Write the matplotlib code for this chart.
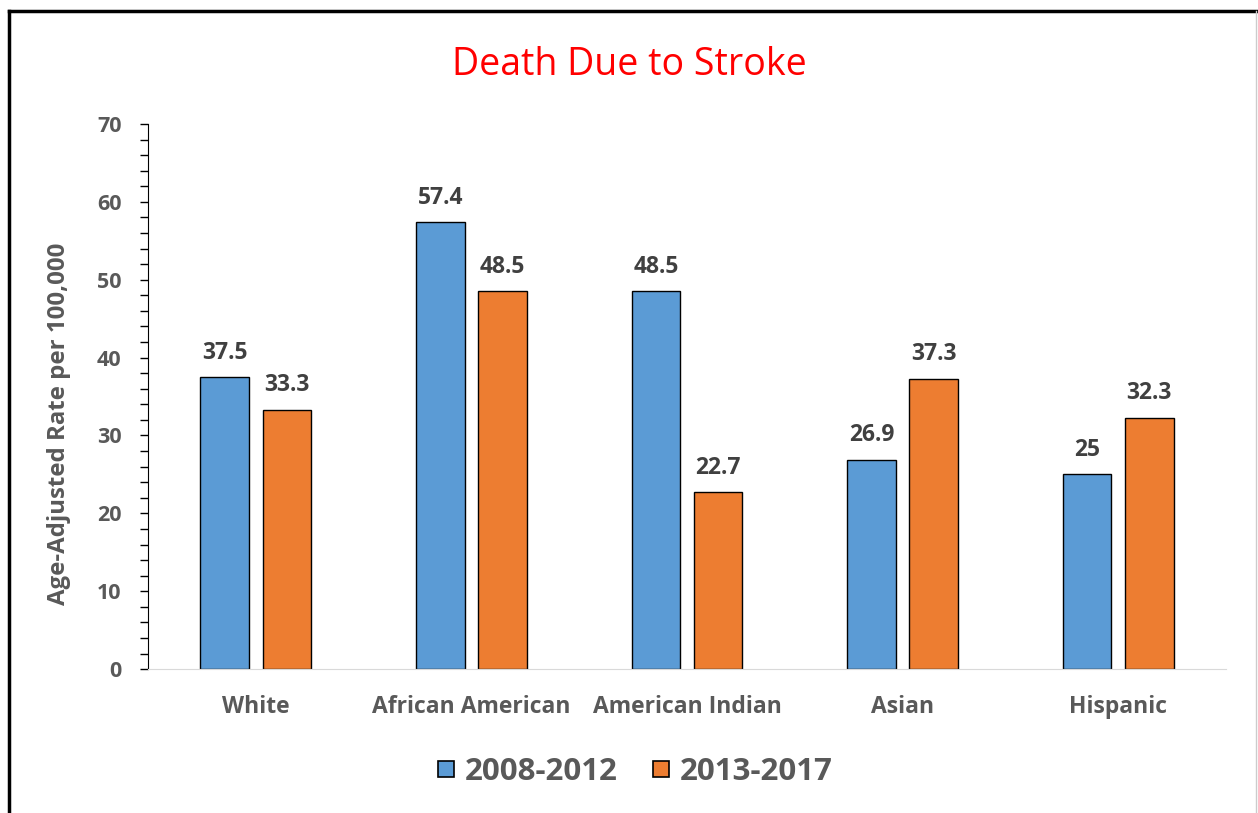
import matplotlib
matplotlib.use("Agg")
import numpy as np
from matplotlib import pyplot as plt
from matplotlib.lines import Line2D
from matplotlib.ticker import MultipleLocator

categories = ["White", "African American", "American Indian", "Asian", "Hispanic"]
rate_2008_2012 = [37.5, 57.4, 48.5, 26.9, 25]
rate_2013_2017 = [33.3, 48.5, 22.7, 37.3, 32.3]
series_labels = ["2008-2012", "2013-2017"]

BLUE = "#5b9bd5"
ORANGE = "#ed7d31"
GRAY = "#595959"

plt.rcParams["font.family"] = ["Open Sans", "DejaVu Sans"]

fig = plt.figure(figsize=(12.58, 8.13), dpi=100)
ax = fig.add_axes([0.1176, 0.177, 0.857, 0.6705])

x = np.arange(len(categories))
w = 0.225
off = 0.144
b1 = ax.bar(x - off, rate_2008_2012, w, color=BLUE, edgecolor="black", linewidth=1)
b2 = ax.bar(x + off, rate_2013_2017, w, color=ORANGE, edgecolor="black", linewidth=1)

for bars, vals in ((b1, rate_2008_2012), (b2, rate_2013_2017)):
    for r, v in zip(bars, vals):
        ax.annotate(f"{v:g}", (r.get_x() + r.get_width() / 2, v),
                    xytext=(0, 9), textcoords="offset points",
                    ha="center", va="bottom", fontsize=16.5, fontweight="bold",
                    color="#404040")

ax.set_xlim(-0.5, len(categories) - 0.5)
ax.set_ylim(0, 70)
ax.yaxis.set_major_locator(MultipleLocator(10))
ax.yaxis.set_minor_locator(MultipleLocator(2))
ax.tick_params(axis="y", which="both", direction="out", length=6, width=1,
               colors="black", labelcolor=GRAY, labelsize=15.5, pad=13)
ax.tick_params(axis="x", length=0, labelsize=16.5, labelcolor=GRAY, pad=19)
ax.set_xticks(x)
ax.set_xticklabels(categories, fontweight="bold")
for t in ax.get_yticklabels():
    t.set_fontweight("bold")

for s in ("top", "right"):
    ax.spines[s].set_visible(False)
ax.spines["bottom"].set_color("#d9d9d9")
ax.spines["left"].set_color("black")

ax.set_ylabel("Age-Adjusted Rate per 100,000", fontsize=17.3, fontweight="bold",
              color=GRAY)
ax.yaxis.set_label_coords(-0.071, 0.45)

fig.suptitle("Death Due to Stroke", y=0.943, fontsize=27, color="#ff0000")

# square legend keys like the spreadsheet original
handles = [
    Line2D([], [], linestyle="none", marker="s", markersize=11,
           markerfacecolor=c, markeredgecolor="black", markeredgewidth=1.2)
    for c in (BLUE, ORANGE)
]
fig.legend(handles, series_labels, loc="center", bbox_to_anchor=(0.5045, 0.05),
           ncol=2, frameon=False, handlelength=0.6, columnspacing=1.1,
           handletextpad=0.3, labelcolor=GRAY, prop={"weight": "bold", "size": 22.5})

# figure frame
fig.add_artist(Line2D([0.007, 1.0], [0.987, 0.987], color="black", lw=2.5,
                      transform=fig.transFigure))
fig.add_artist(Line2D([0.007, 0.007], [0.0, 0.987], color="black", lw=2.5,
                      transform=fig.transFigure))
fig.add_artist(Line2D([0.9985, 0.9985], [0.0, 0.987], color="#cccccc", lw=1,
                      transform=fig.transFigure))

fig.savefig("out.png", dpi=100)
